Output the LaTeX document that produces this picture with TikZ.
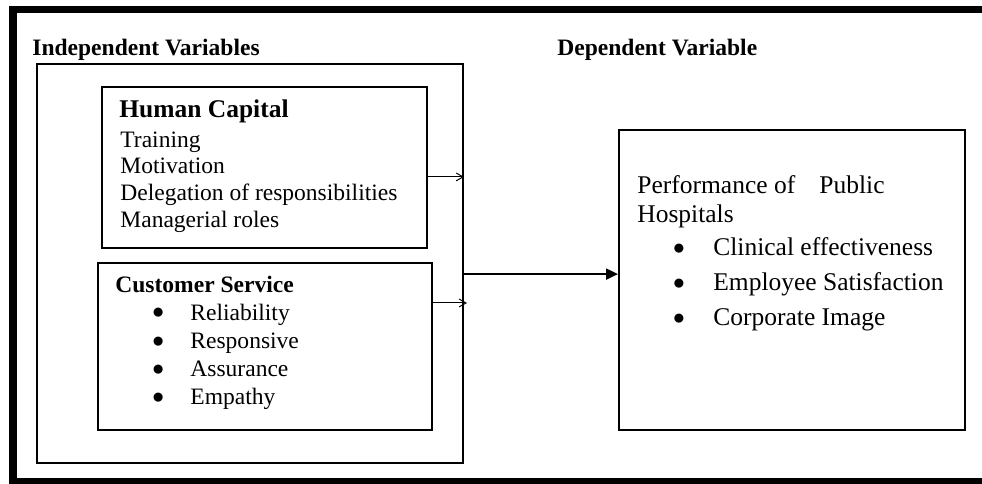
\documentclass[tikz,border=0pt]{standalone}
\usepackage{fontspec}
\setmainfont{Liberation Serif}
\usetikzlibrary{arrows.meta, positioning}

% bullet in a box of given width, text follows after it
\newcommand{\listdot}[1]{\makebox[#1][l]{\raisebox{0.6pt}{$\bullet$}}}

\begin{document}
\begin{tikzpicture}[
  x=0.51pt, y=-0.51pt,
  font=\fontsize{12}{13.6}\selectfont,
  box/.style={draw, line width=0.7pt, inner sep=0pt},
  head/.style={anchor=base west, inner sep=0pt, font=\fontsize{12}{13.6}\selectfont\bfseries},
  items/.style={anchor=base west, inner sep=0pt},
  arrow/.style={-{Straight Barb[length=3.5pt, width=4pt]}, line width=0.5pt},
  bigarrow/.style={-{Triangle[length=6pt, width=5.5pt]}, line width=1.1pt},
]
\useasboundingbox (0,0) rectangle (982,483);
\clip (0,0) rectangle (982,483);

% heavy page frame, runs off right and bottom
\draw[line width=4pt] (13,9.5) rectangle (1000,482);

% Column titles
\node[head] (indeptitle) at (32,55) {Independent Variables};
\node[head] (deptitle) at (557,55) {Dependent Variable};

% Boxes
\node[box, line width=1pt, minimum width=217.3pt, minimum height=203.5pt] (indepbox) at (250,263.5) {};
\node[box, minimum width=165.8pt, minimum height=82.1pt] (hcbox) at (264.5,167.5) {};
\node[box, line width=0.9pt, minimum width=170.3pt, minimum height=85.2pt] (csbox) at (265,346.5) {};
\node[box, line width=1pt, minimum width=176.5pt, minimum height=153pt] (perfbox) at (792,280) {};

% Human capital
\node[head, font=\fontsize{13}{15}\selectfont\bfseries] (hchead) at (119,117) {Human Capital};
\node[items] (hclist) at (120,147) {\begin{tabular}[t]{@{}l@{}}
  Training\\
  Motivation\\
  Delegation of responsibilities\\
  Managerial roles
\end{tabular}};

% Customer service
\node[head] (cshead) at (115,292) {Customer Service};
\node[items] (cslist) at (152,320) {\begin{tabular}[t]{@{}l@{}}
  \listdot{19.4pt}Reliability\\[0.8pt]
  \listdot{19.4pt}Responsive\\[0.8pt]
  \listdot{19.4pt}Assurance\\[0.8pt]
  \listdot{19.4pt}Empathy
\end{tabular}};

% Performance
\node[items, font=\fontsize{13}{14.8}\selectfont] (perftitle) at (637,193) {\begin{tabular}[t]{@{}l@{}}
  Performance of\hspace{0.7em} Public\\
  Hospitals
\end{tabular}};
\node[items, font=\fontsize{13}{14.8}\selectfont] (perflist) at (672.6,255.5) {\begin{tabular}[t]{@{}l@{}}
  \listdot{20.6pt}Clinical effectiveness\\[3.1pt]
  \listdot{20.6pt}Employee Satisfaction\\[3.1pt]
  \listdot{20.6pt}Corporate Image
\end{tabular}};

% Arrows
\path ([yshift=-4.8pt]hcbox.east) coordinate (hcout);
\draw[arrow] (hcout) -- (hcout -| indepbox.east);

\path ([yshift=22.2pt]csbox.east) coordinate (csout);
\path (csout -| indepbox.east) coordinate (csin);
\draw[arrow] (csout) -- ([xshift=1.5pt]csin);

\path ([yshift=-5.4pt]indepbox.east) coordinate (mainout);
\draw[bigarrow] (mainout) -- (mainout -| perfbox.west);

\end{tikzpicture}
\end{document}
